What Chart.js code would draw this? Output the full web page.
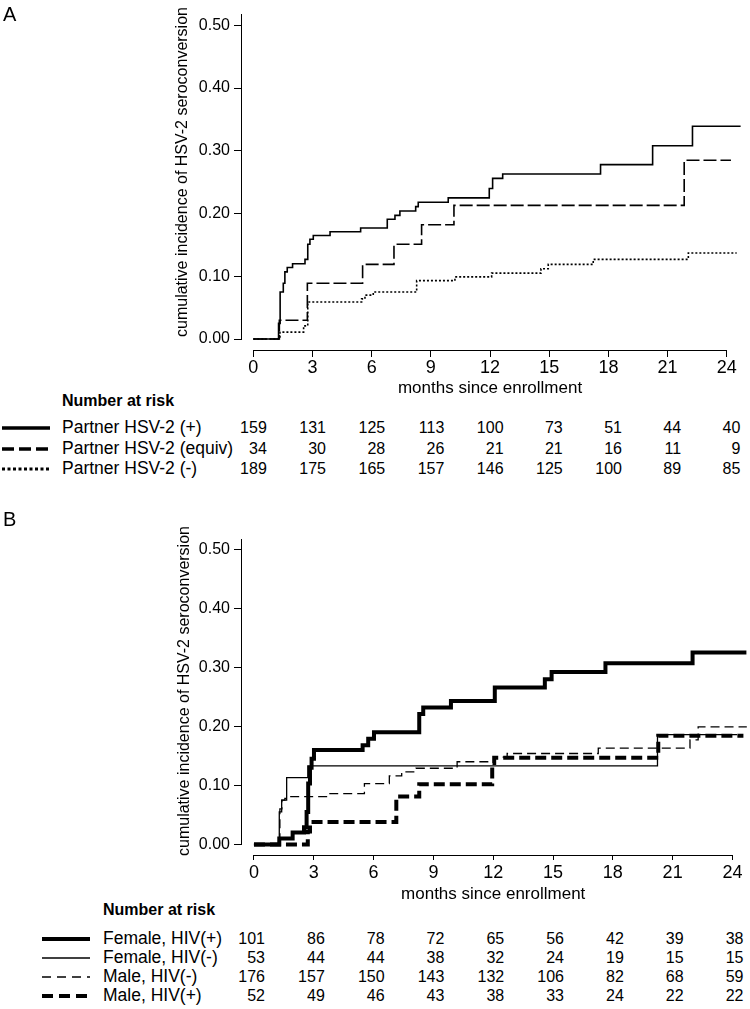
<!DOCTYPE html>
<html>
<head>
<meta charset="utf-8">
<script src="https://cdn.jsdelivr.net/npm/chart.js@4/dist/chart.umd.min.js"></script>
<style>
  body { margin: 0; background: #fff; }
  #wrap { position: relative; width: 750px; height: 1009px; overflow: hidden;
          font-family: "Liberation Sans", Arial, sans-serif; color: #000; }
  canvas { position: absolute; left: 0; }
  .txt { position: absolute; white-space: nowrap; line-height: 1; }
</style>
</head>
<body>
<div id="wrap">
  <canvas id="chartA" width="750" height="380" style="top:0px"></canvas>
  <canvas id="chartB" width="750" height="385" style="top:500px"></canvas>
</div>
<script>
'use strict';

// axes
let monthTicks = [0, 3, 6, 9, 12, 15, 18, 21, 24];
let incidenceTicks = [0, 0.1, 0.2, 0.3, 0.4, 0.5];

// Panel A: by partner HSV-2 status (event month, cumulative incidence after it)
let partnerPosMonths = [0, 1.28, 1.36, 1.52, 1.60, 1.72, 1.99, 2.62, 2.76, 2.87, 3.04, 3.89, 5.44, 6.79, 7.18, 7.43, 8.23, 8.36, 9.88, 11.96, 12.13, 12.64, 17.6, 20.24, 22.26, 24.70];
let partnerPosInc = [0, 0.025, 0.075, 0.089, 0.107, 0.114, 0.120, 0.127, 0.151, 0.159, 0.165, 0.171, 0.177, 0.191, 0.197, 0.204, 0.211, 0.218, 0.225, 0.240, 0.256, 0.263, 0.278, 0.308, 0.339, 0.339];
let partnerEqMonths = [0, 1.32, 2.74, 5.54, 7.13, 8.53, 10.17, 21.84, 24.21];
let partnerEqInc = [0, 0.030, 0.089, 0.119, 0.151, 0.182, 0.213, 0.285, 0.285];
let partnerNegMonths = [0, 1.35, 2.55, 2.76, 5.49, 5.66, 6.08, 8.28, 10.22, 12.08, 14.58, 14.95, 17.23, 22.05, 24.50];
let partnerNegInc = [0, 0.011, 0.021, 0.059, 0.064, 0.070, 0.075, 0.093, 0.099, 0.105, 0.112, 0.119, 0.127, 0.137, 0.137];

let riskLabelsA = ['Partner HSV-2 (+)', 'Partner HSV-2 (equiv)', 'Partner HSV-2 (-)'];
let riskPartnerPos = [159, 131, 125, 113, 100, 73, 51, 44, 40];
let riskPartnerEq = [34, 30, 28, 26, 21, 21, 16, 11, 9];
let riskPartnerNeg = [189, 175, 165, 157, 146, 125, 100, 89, 85];

// Panel B: by sex and HIV status
let femPosMonths = [0, 1.27, 1.94, 2.51, 2.64, 2.72, 2.81, 2.89, 3.01, 5.45, 5.73, 6.02, 8.29, 8.49, 9.88, 12.08, 14.59, 14.93, 17.63, 22.0, 24.70];
let femPosInc = [0, 0.010, 0.020, 0.029, 0.055, 0.103, 0.130, 0.145, 0.160, 0.168, 0.179, 0.190, 0.221, 0.232, 0.243, 0.266, 0.280, 0.292, 0.307, 0.325, 0.325];
let femNegMonths = [0, 1.27, 1.39, 1.64, 2.70, 20.24, 24.23];
let femNegInc = [0, 0.055, 0.075, 0.113, 0.133, 0.186, 0.186];
let maleNegMonths = [0, 1.30, 1.40, 1.55, 1.77, 3.81, 5.54, 6.79, 7.41, 8.13, 10.19, 12.04, 12.70, 17.27, 21.87, 22.28, 24.72];
let maleNegInc = [0, 0.060, 0.075, 0.078, 0.081, 0.086, 0.103, 0.116, 0.123, 0.129, 0.140, 0.148, 0.154, 0.163, 0.177, 0.199, 0.199];
let malePosMonths = [0, 2.70, 2.81, 7.14, 8.29, 11.95, 12.05, 20.28, 24.55];
let malePosInc = [0, 0.022, 0.038, 0.081, 0.102, 0.138, 0.147, 0.184, 0.184];

let riskLabelsB = ['Female, HIV(+)', 'Female, HIV(-)', 'Male, HIV(-)', 'Male, HIV(+)'];
let riskFemPos = [101, 86, 78, 72, 65, 56, 42, 39, 38];
let riskFemNeg = [53, 44, 44, 38, 32, 24, 19, 15, 15];
let riskMaleNeg = [176, 157, 150, 143, 132, 106, 82, 68, 59];
let riskMalePos = [52, 49, 46, 43, 38, 33, 24, 22, 22];

(function () {
  let fontFamily = '"Liberation Sans", Arial, sans-serif';
  Chart.defaults.font.family = fontFamily;
  Chart.defaults.color = '#000';

  let wrap = document.getElementById('wrap');

  let toPoints = (months, values) => months.map((m, i) => ({ x: m, y: values[i] }));

  let lineSet = (months, values, width, dash) => ({
    data: toPoints(months, values),
    borderColor: '#000',
    borderWidth: width,
    borderDash: dash || [],
    stepped: 'before',
    pointRadius: 0,
    fill: false
  });

  // base R style axes: lines run only between the end ticks
  let detachedAxes = {
    id: 'detachedAxes',
    afterDraw(chart) {
      let ctx = chart.ctx;
      let area = chart.chartArea;
      let xs = chart.scales.x;
      let ys = chart.scales.y;
      let bottom = Math.round(area.bottom) + 0.5;
      let left = Math.round(area.left) - 0.5;
      ctx.save();
      ctx.strokeStyle = '#000';
      ctx.lineWidth = 1;
      ctx.beginPath();
      ctx.moveTo(xs.getPixelForValue(monthTicks[0]), bottom);
      ctx.lineTo(xs.getPixelForValue(monthTicks[monthTicks.length - 1]), bottom);
      ctx.moveTo(left, ys.getPixelForValue(0));
      ctx.lineTo(left, area.top);
      ctx.stroke();
      ctx.restore();
    }
  };

  let makeChart = (canvasId, datasets, g) => new Chart(document.getElementById(canvasId), {
    type: 'line',
    data: { datasets },
    options: {
      responsive: false,
      animation: false,
      devicePixelRatio: 1,
      layout: { padding: { top: g.top, right: g.right, left: 0, bottom: 0 } },
      plugins: { legend: { display: false }, tooltip: { enabled: false } },
      scales: {
        x: {
          type: 'linear',
          min: g.xMin,
          max: g.xMax,
          afterBuildTicks: s => { s.ticks = monthTicks.map(v => ({ value: v })); },
          afterFit: s => { s.height = g.xHeight; },
          grid: { drawOnChartArea: false, drawTicks: true, tickLength: g.xTickLen, color: '#000' },
          border: { display: false },
          ticks: { font: { size: 18 }, padding: g.xPad, maxRotation: 0, autoSkip: false, color: '#000' }
        },
        y: {
          type: 'linear',
          min: g.yMin,
          max: g.yMax,
          afterBuildTicks: s => { s.ticks = incidenceTicks.map(v => ({ value: v })); },
          afterFit: s => { s.width = g.yWidth; },
          grid: { drawOnChartArea: false, drawTicks: true, tickLength: 8, color: '#000' },
          border: { display: false },
          ticks: { font: { size: 16 }, padding: 4, color: '#000', callback: v => v.toFixed(2) }
        }
      }
    },
    plugins: [detachedAxes]
  });

  let addText = (text, left, top, size, extra) => {
    let d = document.createElement('div');
    d.className = 'txt';
    d.textContent = text;
    d.style.left = left + 'px';
    d.style.top = top + 'px';
    d.style.fontSize = size + 'px';
    if (extra) Object.assign(d.style, extra);
    wrap.appendChild(d);
    return d;
  };

  let addSample = (x1, x2, cy, width, dash) => {
    let ns = 'http://www.w3.org/2000/svg';
    let svg = document.createElementNS(ns, 'svg');
    svg.setAttribute('width', x2 - x1);
    svg.setAttribute('height', 10);
    svg.style.position = 'absolute';
    svg.style.left = x1 + 'px';
    svg.style.top = (cy - 5) + 'px';
    let ln = document.createElementNS(ns, 'line');
    ln.setAttribute('x1', 0);
    ln.setAttribute('x2', x2 - x1);
    ln.setAttribute('y1', 5);
    ln.setAttribute('y2', 5);
    ln.setAttribute('stroke', '#000');
    ln.setAttribute('stroke-width', width);
    if (dash) ln.setAttribute('stroke-dasharray', dash.join(' '));
    svg.appendChild(ln);
    wrap.appendChild(svg);
  };

  let addPanel = (chart, p) => {
    let xs = chart.scales.x;
    addText(p.letter, 3, p.letterTop, 20);
    addText('cumulative incidence of HSV-2 seroconversion', p.titleX, p.titleY, 16,
      { transform: 'translate(-50%, -50%) rotate(-90deg)' });
    let mid = (xs.getPixelForValue(0) + xs.getPixelForValue(24)) / 2;
    addText('months since enrollment', mid, p.xTitleY - 8.5, 17, { transform: 'translateX(-50%)' });
    addText('Number at risk', p.labelX, p.headY - 8, 16, { fontWeight: 'bold' });
    p.rows.forEach((row, r) => {
      let cy = p.rowY[r];
      addSample(p.sampleX1, p.sampleX2, cy, row.width, row.dash);
      addText(row.label, p.labelX, cy - 8.7, 17.5);
      row.counts.forEach((n, i) => {
        let right = xs.getPixelForValue(monthTicks[i]) + p.numOffset;
        addText(String(n), 0, cy - 8, 16, { left: 'auto', right: (750 - right) + 'px' });
      });
    });
  };

  let chartA = makeChart('chartA', [
    lineSet(partnerPosMonths, partnerPosInc, 1.6),
    lineSet(partnerEqMonths, partnerEqInc, 1.6, [13, 4]),
    lineSet(partnerNegMonths, partnerNegInc, 1.6, [2, 2])
  ], { top: 14, right: 8, xMin: -0.573, xMax: 24.77, yMin: -0.0175, yMax: 0.518,
       xHeight: 30, xTickLen: 7, xPad: 0, yWidth: 242 });

  let chartB = makeChart('chartB', [
    lineSet(femPosMonths, femPosInc, 4),
    lineSet(femNegMonths, femNegInc, 1.3),
    lineSet(maleNegMonths, maleNegInc, 1.3, [9, 5]),
    lineSet(malePosMonths, malePosInc, 4, [11, 5])
  ], { top: 39, right: 3, xMin: -0.60, xMax: 24.73, yMin: -0.018, yMax: 0.5175,
       xHeight: 30, xTickLen: 5, xPad: 2, yWidth: 242 });

  addPanel(chartA, {
    letter: 'A', letterTop: 4, titleX: 182, titleY: 172, xTitleY: 387,
    headY: 401, labelX: 62, sampleX1: 2, sampleX2: 50, numOffset: 13.5,
    rowY: [428, 449, 469],
    rows: [
      { label: riskLabelsA[0], counts: riskPartnerPos, width: 3.5 },
      { label: riskLabelsA[1], counts: riskPartnerEq, width: 3.5, dash: [12, 5] },
      { label: riskLabelsA[2], counts: riskPartnerNeg, width: 3, dash: [3, 2.5] }
    ]
  });

  addPanel(chartB, {
    letter: 'B', letterTop: 509, titleX: 184, titleY: 691, xTitleY: 893,
    headY: 910, labelX: 103, sampleX1: 42, sampleX2: 90, numOffset: 11,
    rowY: [939, 958, 977, 996],
    rows: [
      { label: riskLabelsB[0], counts: riskFemPos, width: 4 },
      { label: riskLabelsB[1], counts: riskFemNeg, width: 1.3 },
      { label: riskLabelsB[2], counts: riskMaleNeg, width: 1.3, dash: [9, 6] },
      { label: riskLabelsB[3], counts: riskMalePos, width: 4, dash: [11, 6] }
    ]
  });
})();
</script>
</body>
</html>
